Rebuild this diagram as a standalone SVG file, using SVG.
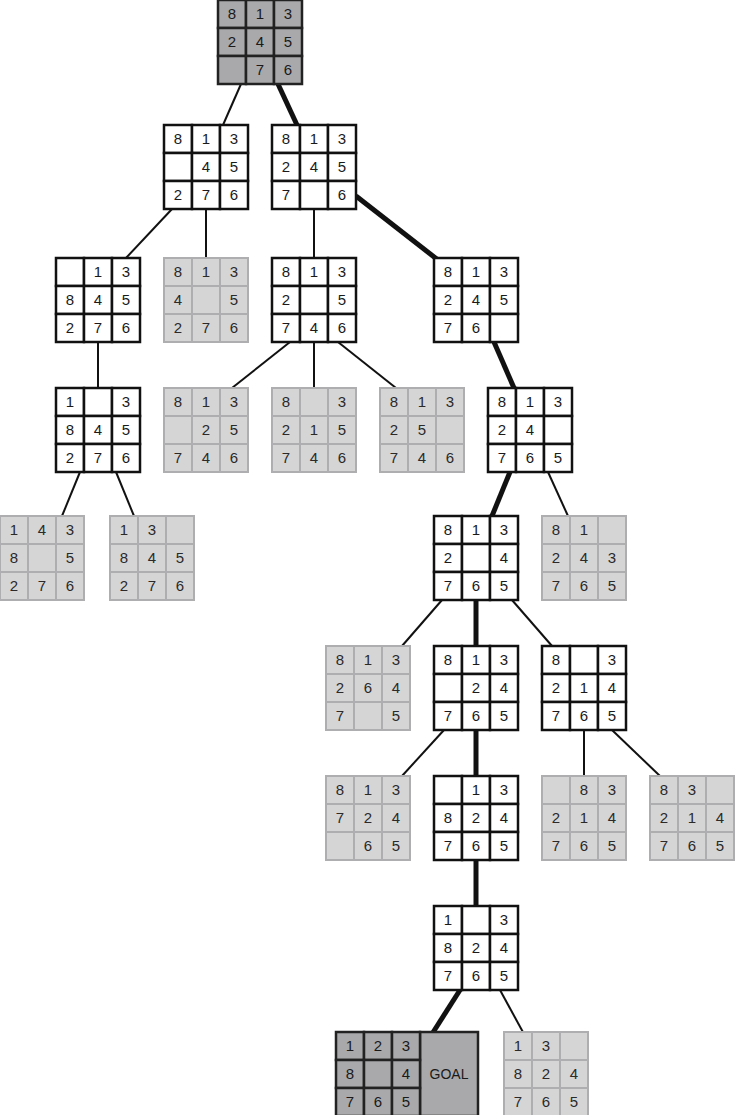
<svg xmlns="http://www.w3.org/2000/svg" width="739" height="1115" viewBox="0 0 739 1115">
<style>
.w rect{fill:#fff;stroke:#111;stroke-width:2.5}
.g rect{fill:#d5d5d6;stroke:#aeaeb0;stroke-width:2}
.d rect{fill:#a9a9ab;stroke:#222;stroke-width:2.5}
text{font-family:"Liberation Sans",Arial,sans-serif;font-size:15px;fill:#1a1a1a;text-anchor:middle}
.g text{fill:#2a2a2a}
.e line{stroke:#111;stroke-width:2}
.e line.t{stroke-width:5}
</style>
<rect width="739" height="1115" fill="#fff"/>
<g class="e">
<line x1="241" y1="84" x2="223" y2="125"/>
<line class="t" x1="278" y1="84" x2="297" y2="125"/>
<line x1="172" y1="209" x2="126" y2="258"/>
<line x1="206" y1="209" x2="206" y2="258"/>
<line x1="314" y1="209" x2="314" y2="258"/>
<line class="t" x1="356" y1="196" x2="438" y2="260"/>
<line x1="98" y1="342" x2="98" y2="388"/>
<line x1="290" y1="342" x2="232" y2="388"/>
<line x1="314" y1="342" x2="314" y2="388"/>
<line x1="338" y1="342" x2="396" y2="388"/>
<line class="t" x1="494" y1="342" x2="514" y2="388"/>
<line x1="80" y1="472" x2="62" y2="516"/>
<line x1="116" y1="472" x2="134" y2="516"/>
<line class="t" x1="510" y1="472" x2="492" y2="516"/>
<line x1="548" y1="472" x2="568" y2="516"/>
<line x1="442" y1="600" x2="402" y2="646"/>
<line class="t" x1="476" y1="600" x2="476" y2="646"/>
<line x1="512" y1="600" x2="552" y2="646"/>
<line x1="444" y1="730" x2="402" y2="776"/>
<line class="t" x1="476" y1="730" x2="476" y2="776"/>
<line x1="584" y1="730" x2="584" y2="776"/>
<line x1="612" y1="730" x2="660" y2="776"/>
<line class="t" x1="476" y1="860" x2="476" y2="906"/>
<line class="t" x1="460" y1="990" x2="432" y2="1034"/>
<line x1="500" y1="990" x2="524" y2="1034"/>
</g>
<defs>
<g id="c"><rect width="28" height="28"/></g>
</defs>
<!-- helper: each node 3x3 cells of 28 -->
<g id="n0" class="d" transform="translate(218,0)">
<rect x="0" y="0" width="28" height="28"/><rect x="28" y="0" width="28" height="28"/><rect x="56" y="0" width="28" height="28"/>
<rect x="0" y="28" width="28" height="28"/><rect x="28" y="28" width="28" height="28"/><rect x="56" y="28" width="28" height="28"/>
<rect x="0" y="56" width="28" height="28"/><rect x="28" y="56" width="28" height="28"/><rect x="56" y="56" width="28" height="28"/>
<text x="14" y="19">8</text><text x="42" y="19">1</text><text x="70" y="19">3</text>
<text x="14" y="47">2</text><text x="42" y="47">4</text><text x="70" y="47">5</text>
<text x="42" y="75">7</text><text x="70" y="75">6</text>
</g>
<g id="n1" class="w" transform="translate(164,125)">
<rect x="0" y="0" width="28" height="28"/><rect x="28" y="0" width="28" height="28"/><rect x="56" y="0" width="28" height="28"/>
<rect x="0" y="28" width="28" height="28"/><rect x="28" y="28" width="28" height="28"/><rect x="56" y="28" width="28" height="28"/>
<rect x="0" y="56" width="28" height="28"/><rect x="28" y="56" width="28" height="28"/><rect x="56" y="56" width="28" height="28"/>
<text x="14" y="19">8</text><text x="42" y="19">1</text><text x="70" y="19">3</text>
<text x="42" y="47">4</text><text x="70" y="47">5</text>
<text x="14" y="75">2</text><text x="42" y="75">7</text><text x="70" y="75">6</text>
</g>
<g id="n2" class="w" transform="translate(272,125)">
<rect x="0" y="0" width="28" height="28"/><rect x="28" y="0" width="28" height="28"/><rect x="56" y="0" width="28" height="28"/>
<rect x="0" y="28" width="28" height="28"/><rect x="28" y="28" width="28" height="28"/><rect x="56" y="28" width="28" height="28"/>
<rect x="0" y="56" width="28" height="28"/><rect x="28" y="56" width="28" height="28"/><rect x="56" y="56" width="28" height="28"/>
<text x="14" y="19">8</text><text x="42" y="19">1</text><text x="70" y="19">3</text>
<text x="14" y="47">2</text><text x="42" y="47">4</text><text x="70" y="47">5</text>
<text x="14" y="75">7</text><text x="70" y="75">6</text>
</g>
<g id="n3" class="w" transform="translate(56,258)">
<rect x="0" y="0" width="28" height="28"/><rect x="28" y="0" width="28" height="28"/><rect x="56" y="0" width="28" height="28"/>
<rect x="0" y="28" width="28" height="28"/><rect x="28" y="28" width="28" height="28"/><rect x="56" y="28" width="28" height="28"/>
<rect x="0" y="56" width="28" height="28"/><rect x="28" y="56" width="28" height="28"/><rect x="56" y="56" width="28" height="28"/>
<text x="42" y="19">1</text><text x="70" y="19">3</text>
<text x="14" y="47">8</text><text x="42" y="47">4</text><text x="70" y="47">5</text>
<text x="14" y="75">2</text><text x="42" y="75">7</text><text x="70" y="75">6</text>
</g>
<g id="n4" class="g" transform="translate(164,258)">
<rect x="0" y="0" width="28" height="28"/><rect x="28" y="0" width="28" height="28"/><rect x="56" y="0" width="28" height="28"/>
<rect x="0" y="28" width="28" height="28"/><rect x="28" y="28" width="28" height="28"/><rect x="56" y="28" width="28" height="28"/>
<rect x="0" y="56" width="28" height="28"/><rect x="28" y="56" width="28" height="28"/><rect x="56" y="56" width="28" height="28"/>
<text x="14" y="19">8</text><text x="42" y="19">1</text><text x="70" y="19">3</text>
<text x="14" y="47">4</text><text x="70" y="47">5</text>
<text x="14" y="75">2</text><text x="42" y="75">7</text><text x="70" y="75">6</text>
</g>
<g id="n5" class="w" transform="translate(272,258)">
<rect x="0" y="0" width="28" height="28"/><rect x="28" y="0" width="28" height="28"/><rect x="56" y="0" width="28" height="28"/>
<rect x="0" y="28" width="28" height="28"/><rect x="28" y="28" width="28" height="28"/><rect x="56" y="28" width="28" height="28"/>
<rect x="0" y="56" width="28" height="28"/><rect x="28" y="56" width="28" height="28"/><rect x="56" y="56" width="28" height="28"/>
<text x="14" y="19">8</text><text x="42" y="19">1</text><text x="70" y="19">3</text>
<text x="14" y="47">2</text><text x="70" y="47">5</text>
<text x="14" y="75">7</text><text x="42" y="75">4</text><text x="70" y="75">6</text>
</g>
<g id="n6" class="w" transform="translate(434,258)">
<rect x="0" y="0" width="28" height="28"/><rect x="28" y="0" width="28" height="28"/><rect x="56" y="0" width="28" height="28"/>
<rect x="0" y="28" width="28" height="28"/><rect x="28" y="28" width="28" height="28"/><rect x="56" y="28" width="28" height="28"/>
<rect x="0" y="56" width="28" height="28"/><rect x="28" y="56" width="28" height="28"/><rect x="56" y="56" width="28" height="28"/>
<text x="14" y="19">8</text><text x="42" y="19">1</text><text x="70" y="19">3</text>
<text x="14" y="47">2</text><text x="42" y="47">4</text><text x="70" y="47">5</text>
<text x="14" y="75">7</text><text x="42" y="75">6</text>
</g>
<g id="n7" class="w" transform="translate(56,388)">
<rect x="0" y="0" width="28" height="28"/><rect x="28" y="0" width="28" height="28"/><rect x="56" y="0" width="28" height="28"/>
<rect x="0" y="28" width="28" height="28"/><rect x="28" y="28" width="28" height="28"/><rect x="56" y="28" width="28" height="28"/>
<rect x="0" y="56" width="28" height="28"/><rect x="28" y="56" width="28" height="28"/><rect x="56" y="56" width="28" height="28"/>
<text x="14" y="19">1</text><text x="70" y="19">3</text>
<text x="14" y="47">8</text><text x="42" y="47">4</text><text x="70" y="47">5</text>
<text x="14" y="75">2</text><text x="42" y="75">7</text><text x="70" y="75">6</text>
</g>
<g id="n8" class="g" transform="translate(164,388)">
<rect x="0" y="0" width="28" height="28"/><rect x="28" y="0" width="28" height="28"/><rect x="56" y="0" width="28" height="28"/>
<rect x="0" y="28" width="28" height="28"/><rect x="28" y="28" width="28" height="28"/><rect x="56" y="28" width="28" height="28"/>
<rect x="0" y="56" width="28" height="28"/><rect x="28" y="56" width="28" height="28"/><rect x="56" y="56" width="28" height="28"/>
<text x="14" y="19">8</text><text x="42" y="19">1</text><text x="70" y="19">3</text>
<text x="42" y="47">2</text><text x="70" y="47">5</text>
<text x="14" y="75">7</text><text x="42" y="75">4</text><text x="70" y="75">6</text>
</g>
<g id="n9" class="g" transform="translate(272,388)">
<rect x="0" y="0" width="28" height="28"/><rect x="28" y="0" width="28" height="28"/><rect x="56" y="0" width="28" height="28"/>
<rect x="0" y="28" width="28" height="28"/><rect x="28" y="28" width="28" height="28"/><rect x="56" y="28" width="28" height="28"/>
<rect x="0" y="56" width="28" height="28"/><rect x="28" y="56" width="28" height="28"/><rect x="56" y="56" width="28" height="28"/>
<text x="14" y="19">8</text><text x="70" y="19">3</text>
<text x="14" y="47">2</text><text x="42" y="47">1</text><text x="70" y="47">5</text>
<text x="14" y="75">7</text><text x="42" y="75">4</text><text x="70" y="75">6</text>
</g>
<g id="n10" class="g" transform="translate(380,388)">
<rect x="0" y="0" width="28" height="28"/><rect x="28" y="0" width="28" height="28"/><rect x="56" y="0" width="28" height="28"/>
<rect x="0" y="28" width="28" height="28"/><rect x="28" y="28" width="28" height="28"/><rect x="56" y="28" width="28" height="28"/>
<rect x="0" y="56" width="28" height="28"/><rect x="28" y="56" width="28" height="28"/><rect x="56" y="56" width="28" height="28"/>
<text x="14" y="19">8</text><text x="42" y="19">1</text><text x="70" y="19">3</text>
<text x="14" y="47">2</text><text x="42" y="47">5</text>
<text x="14" y="75">7</text><text x="42" y="75">4</text><text x="70" y="75">6</text>
</g>
<g id="n11" class="w" transform="translate(488,388)">
<rect x="0" y="0" width="28" height="28"/><rect x="28" y="0" width="28" height="28"/><rect x="56" y="0" width="28" height="28"/>
<rect x="0" y="28" width="28" height="28"/><rect x="28" y="28" width="28" height="28"/><rect x="56" y="28" width="28" height="28"/>
<rect x="0" y="56" width="28" height="28"/><rect x="28" y="56" width="28" height="28"/><rect x="56" y="56" width="28" height="28"/>
<text x="14" y="19">8</text><text x="42" y="19">1</text><text x="70" y="19">3</text>
<text x="14" y="47">2</text><text x="42" y="47">4</text>
<text x="14" y="75">7</text><text x="42" y="75">6</text><text x="70" y="75">5</text>
</g>
<g id="n12" class="g" transform="translate(0,516)">
<rect x="0" y="0" width="28" height="28"/><rect x="28" y="0" width="28" height="28"/><rect x="56" y="0" width="28" height="28"/>
<rect x="0" y="28" width="28" height="28"/><rect x="28" y="28" width="28" height="28"/><rect x="56" y="28" width="28" height="28"/>
<rect x="0" y="56" width="28" height="28"/><rect x="28" y="56" width="28" height="28"/><rect x="56" y="56" width="28" height="28"/>
<text x="14" y="19">1</text><text x="42" y="19">4</text><text x="70" y="19">3</text>
<text x="14" y="47">8</text><text x="70" y="47">5</text>
<text x="14" y="75">2</text><text x="42" y="75">7</text><text x="70" y="75">6</text>
</g>
<g id="n13" class="g" transform="translate(110,516)">
<rect x="0" y="0" width="28" height="28"/><rect x="28" y="0" width="28" height="28"/><rect x="56" y="0" width="28" height="28"/>
<rect x="0" y="28" width="28" height="28"/><rect x="28" y="28" width="28" height="28"/><rect x="56" y="28" width="28" height="28"/>
<rect x="0" y="56" width="28" height="28"/><rect x="28" y="56" width="28" height="28"/><rect x="56" y="56" width="28" height="28"/>
<text x="14" y="19">1</text><text x="42" y="19">3</text>
<text x="14" y="47">8</text><text x="42" y="47">4</text><text x="70" y="47">5</text>
<text x="14" y="75">2</text><text x="42" y="75">7</text><text x="70" y="75">6</text>
</g>
<g id="n14" class="w" transform="translate(434,516)">
<rect x="0" y="0" width="28" height="28"/><rect x="28" y="0" width="28" height="28"/><rect x="56" y="0" width="28" height="28"/>
<rect x="0" y="28" width="28" height="28"/><rect x="28" y="28" width="28" height="28"/><rect x="56" y="28" width="28" height="28"/>
<rect x="0" y="56" width="28" height="28"/><rect x="28" y="56" width="28" height="28"/><rect x="56" y="56" width="28" height="28"/>
<text x="14" y="19">8</text><text x="42" y="19">1</text><text x="70" y="19">3</text>
<text x="14" y="47">2</text><text x="70" y="47">4</text>
<text x="14" y="75">7</text><text x="42" y="75">6</text><text x="70" y="75">5</text>
</g>
<g id="n15" class="g" transform="translate(542,516)">
<rect x="0" y="0" width="28" height="28"/><rect x="28" y="0" width="28" height="28"/><rect x="56" y="0" width="28" height="28"/>
<rect x="0" y="28" width="28" height="28"/><rect x="28" y="28" width="28" height="28"/><rect x="56" y="28" width="28" height="28"/>
<rect x="0" y="56" width="28" height="28"/><rect x="28" y="56" width="28" height="28"/><rect x="56" y="56" width="28" height="28"/>
<text x="14" y="19">8</text><text x="42" y="19">1</text>
<text x="14" y="47">2</text><text x="42" y="47">4</text><text x="70" y="47">3</text>
<text x="14" y="75">7</text><text x="42" y="75">6</text><text x="70" y="75">5</text>
</g>
<g id="n16" class="g" transform="translate(326,646)">
<rect x="0" y="0" width="28" height="28"/><rect x="28" y="0" width="28" height="28"/><rect x="56" y="0" width="28" height="28"/>
<rect x="0" y="28" width="28" height="28"/><rect x="28" y="28" width="28" height="28"/><rect x="56" y="28" width="28" height="28"/>
<rect x="0" y="56" width="28" height="28"/><rect x="28" y="56" width="28" height="28"/><rect x="56" y="56" width="28" height="28"/>
<text x="14" y="19">8</text><text x="42" y="19">1</text><text x="70" y="19">3</text>
<text x="14" y="47">2</text><text x="42" y="47">6</text><text x="70" y="47">4</text>
<text x="14" y="75">7</text><text x="70" y="75">5</text>
</g>
<g id="n17" class="w" transform="translate(434,646)">
<rect x="0" y="0" width="28" height="28"/><rect x="28" y="0" width="28" height="28"/><rect x="56" y="0" width="28" height="28"/>
<rect x="0" y="28" width="28" height="28"/><rect x="28" y="28" width="28" height="28"/><rect x="56" y="28" width="28" height="28"/>
<rect x="0" y="56" width="28" height="28"/><rect x="28" y="56" width="28" height="28"/><rect x="56" y="56" width="28" height="28"/>
<text x="14" y="19">8</text><text x="42" y="19">1</text><text x="70" y="19">3</text>
<text x="42" y="47">2</text><text x="70" y="47">4</text>
<text x="14" y="75">7</text><text x="42" y="75">6</text><text x="70" y="75">5</text>
</g>
<g id="n18" class="w" transform="translate(542,646)">
<rect x="0" y="0" width="28" height="28"/><rect x="28" y="0" width="28" height="28"/><rect x="56" y="0" width="28" height="28"/>
<rect x="0" y="28" width="28" height="28"/><rect x="28" y="28" width="28" height="28"/><rect x="56" y="28" width="28" height="28"/>
<rect x="0" y="56" width="28" height="28"/><rect x="28" y="56" width="28" height="28"/><rect x="56" y="56" width="28" height="28"/>
<text x="14" y="19">8</text><text x="70" y="19">3</text>
<text x="14" y="47">2</text><text x="42" y="47">1</text><text x="70" y="47">4</text>
<text x="14" y="75">7</text><text x="42" y="75">6</text><text x="70" y="75">5</text>
</g>
<g id="n19" class="g" transform="translate(326,776)">
<rect x="0" y="0" width="28" height="28"/><rect x="28" y="0" width="28" height="28"/><rect x="56" y="0" width="28" height="28"/>
<rect x="0" y="28" width="28" height="28"/><rect x="28" y="28" width="28" height="28"/><rect x="56" y="28" width="28" height="28"/>
<rect x="0" y="56" width="28" height="28"/><rect x="28" y="56" width="28" height="28"/><rect x="56" y="56" width="28" height="28"/>
<text x="14" y="19">8</text><text x="42" y="19">1</text><text x="70" y="19">3</text>
<text x="14" y="47">7</text><text x="42" y="47">2</text><text x="70" y="47">4</text>
<text x="42" y="75">6</text><text x="70" y="75">5</text>
</g>
<g id="n20" class="w" transform="translate(434,776)">
<rect x="0" y="0" width="28" height="28"/><rect x="28" y="0" width="28" height="28"/><rect x="56" y="0" width="28" height="28"/>
<rect x="0" y="28" width="28" height="28"/><rect x="28" y="28" width="28" height="28"/><rect x="56" y="28" width="28" height="28"/>
<rect x="0" y="56" width="28" height="28"/><rect x="28" y="56" width="28" height="28"/><rect x="56" y="56" width="28" height="28"/>
<text x="42" y="19">1</text><text x="70" y="19">3</text>
<text x="14" y="47">8</text><text x="42" y="47">2</text><text x="70" y="47">4</text>
<text x="14" y="75">7</text><text x="42" y="75">6</text><text x="70" y="75">5</text>
</g>
<g id="n21" class="g" transform="translate(542,776)">
<rect x="0" y="0" width="28" height="28"/><rect x="28" y="0" width="28" height="28"/><rect x="56" y="0" width="28" height="28"/>
<rect x="0" y="28" width="28" height="28"/><rect x="28" y="28" width="28" height="28"/><rect x="56" y="28" width="28" height="28"/>
<rect x="0" y="56" width="28" height="28"/><rect x="28" y="56" width="28" height="28"/><rect x="56" y="56" width="28" height="28"/>
<text x="42" y="19">8</text><text x="70" y="19">3</text>
<text x="14" y="47">2</text><text x="42" y="47">1</text><text x="70" y="47">4</text>
<text x="14" y="75">7</text><text x="42" y="75">6</text><text x="70" y="75">5</text>
</g>
<g id="n22" class="g" transform="translate(650,776)">
<rect x="0" y="0" width="28" height="28"/><rect x="28" y="0" width="28" height="28"/><rect x="56" y="0" width="28" height="28"/>
<rect x="0" y="28" width="28" height="28"/><rect x="28" y="28" width="28" height="28"/><rect x="56" y="28" width="28" height="28"/>
<rect x="0" y="56" width="28" height="28"/><rect x="28" y="56" width="28" height="28"/><rect x="56" y="56" width="28" height="28"/>
<text x="14" y="19">8</text><text x="42" y="19">3</text>
<text x="14" y="47">2</text><text x="42" y="47">1</text><text x="70" y="47">4</text>
<text x="14" y="75">7</text><text x="42" y="75">6</text><text x="70" y="75">5</text>
</g>
<g id="n23" class="w" transform="translate(434,906)">
<rect x="0" y="0" width="28" height="28"/><rect x="28" y="0" width="28" height="28"/><rect x="56" y="0" width="28" height="28"/>
<rect x="0" y="28" width="28" height="28"/><rect x="28" y="28" width="28" height="28"/><rect x="56" y="28" width="28" height="28"/>
<rect x="0" y="56" width="28" height="28"/><rect x="28" y="56" width="28" height="28"/><rect x="56" y="56" width="28" height="28"/>
<text x="14" y="19">1</text><text x="70" y="19">3</text>
<text x="14" y="47">8</text><text x="42" y="47">2</text><text x="70" y="47">4</text>
<text x="14" y="75">7</text><text x="42" y="75">6</text><text x="70" y="75">5</text>
</g>
<g id="goal" class="d" transform="translate(336,1032)">
<rect x="84" y="0" width="58" height="84"/>
<rect x="0" y="0" width="28" height="28"/><rect x="28" y="0" width="28" height="28"/><rect x="56" y="0" width="28" height="28"/>
<rect x="0" y="28" width="28" height="28"/><rect x="28" y="28" width="28" height="28"/><rect x="56" y="28" width="28" height="28"/>
<rect x="0" y="56" width="28" height="28"/><rect x="28" y="56" width="28" height="28"/><rect x="56" y="56" width="28" height="28"/>
<text x="14" y="19">1</text><text x="42" y="19">2</text><text x="70" y="19">3</text>
<text x="14" y="47">8</text><text x="70" y="47">4</text>
<text x="14" y="75">7</text><text x="42" y="75">6</text><text x="70" y="75">5</text>
<text x="113" y="47" style="font-size:14px">GOAL</text>
</g>
<g id="n24" class="g" transform="translate(504,1032)">
<rect x="0" y="0" width="28" height="28"/><rect x="28" y="0" width="28" height="28"/><rect x="56" y="0" width="28" height="28"/>
<rect x="0" y="28" width="28" height="28"/><rect x="28" y="28" width="28" height="28"/><rect x="56" y="28" width="28" height="28"/>
<rect x="0" y="56" width="28" height="28"/><rect x="28" y="56" width="28" height="28"/><rect x="56" y="56" width="28" height="28"/>
<text x="14" y="19">1</text><text x="42" y="19">3</text>
<text x="14" y="47">8</text><text x="42" y="47">2</text><text x="70" y="47">4</text>
<text x="14" y="75">7</text><text x="42" y="75">6</text><text x="70" y="75">5</text>
</g>
</svg>
